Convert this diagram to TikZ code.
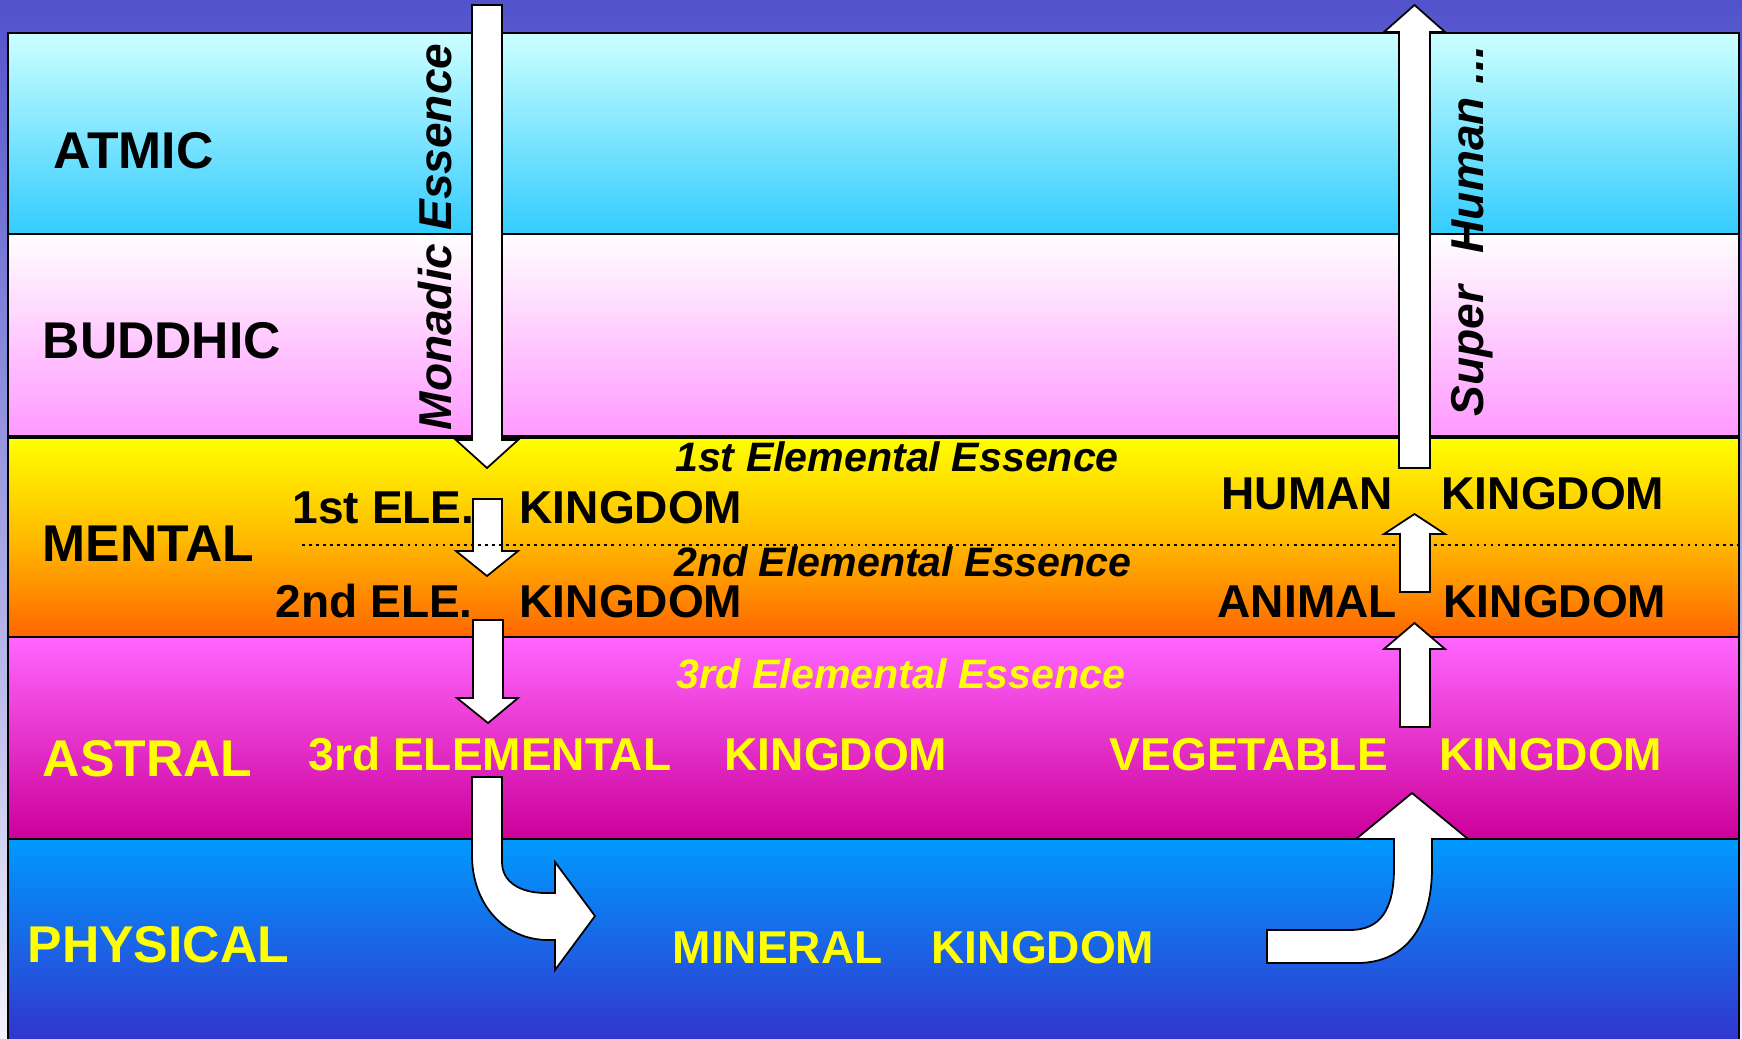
\documentclass[tikz,border=0pt]{standalone}
\usepackage{fontspec}
\setmainfont{Liberation Sans}

\definecolor{backtop}{HTML}{5252CC}
\definecolor{backbot}{HTML}{F2F2FB}
\definecolor{atmictop}{HTML}{CCFFFF}
\definecolor{atmicbot}{HTML}{33CCFF}
\definecolor{buddhictop}{HTML}{FFFFFF}
\definecolor{buddhicbot}{HTML}{FF99FF}
\definecolor{mentaltop}{HTML}{FFFF00}
\definecolor{mentalmid}{HTML}{FFBB00}
\definecolor{mentalbot}{HTML}{FF6600}
\definecolor{astraltop}{HTML}{FF66FF}
\definecolor{astralbot}{HTML}{CC0099}
\definecolor{physicaltop}{HTML}{0099FF}
\definecolor{physicalbot}{HTML}{3333CC}
\definecolor{lowtext}{HTML}{FFFF00}

\begin{document}
\begin{tikzpicture} [
    x=0.01cm,
    y=-0.01cm,
    line join=miter,
  ]

  \tikzstyle{plane} = [
    draw=black,
    line width=0.6pt,
  ]
  \tikzstyle{planelabel} = [
    anchor=base west,
    inner sep=0pt,
    font=\fontsize{14.7}{18}\selectfont\bfseries,
  ]
  \tikzstyle{kingdom} = [
    planelabel,
    font=\fontsize{13.1}{15}\selectfont\bfseries,
  ]
  \tikzstyle{essence} = [
    anchor=base,
    inner sep=0pt,
    font=\fontsize{11.7}{14}\selectfont\bfseries\itshape,
  ]
  \tikzstyle{essenceup} = [
    essence,
    rotate=90,
    font=\fontsize{13.1}{15}\selectfont\bfseries\itshape,
  ]
  \tikzstyle{blockarrow} = [
    fill=white,
    draw=black,
    line width=0.5pt,
  ]

  \clip (0,0) rectangle (1742,1038);
  \shade[top color=backtop, bottom color=backbot] (0,0) rectangle (1742,1038);

  % the five planes
  \path[plane, top color=atmictop, bottom color=atmicbot]       (8,33)  rectangle (1739,234);
  \path[plane, top color=buddhictop, bottom color=buddhicbot]   (8,234) rectangle (1739,436);
  \path[plane, top color=mentaltop, bottom color=mentalbot,
        middle color=mentalmid]                                  (8,438) rectangle (1739,637);
  \path[plane, top color=astraltop, bottom color=astralbot]     (8,637) rectangle (1739,839);
  \path[plane, top color=physicaltop, bottom color=physicalbot] (8,839) rectangle (1739,1045);

  \node[planelabel]             (atmic)    at (53,168) {ATMIC};
  \node[planelabel]             (buddhic)  at (42,358) {BUDDHIC};
  \node[planelabel]             (mental)   at (42,561) {MENTAL};
  \node[planelabel, lowtext]    (astral)   at (42,776) {ASTRAL};
  \node[planelabel, lowtext]    (physical) at (27,962) {PHYSICAL};

  \node[essenceup] (monadic)    at (451,237) {Monadic Essence};
  \node[essenceup] (superhuman) at (1483,231) {Super\hspace{0.7em}Human ...};

  \node[essence]          (ess1) at (897,471) {1st Elemental Essence};
  \node[essence]          (ess2) at (903,576) {2nd Elemental Essence};
  \node[essence, lowtext] (ess3) at (901,688) {3rd Elemental Essence};

  \node[kingdom]          (ele1)     at (292,523)  {1st ELE.};
  \node[kingdom]          (ele1k)    at (519,523)  {KINGDOM};
  \node[kingdom]          (ele2)     at (275,617)  {2nd ELE.};
  \node[kingdom]          (ele2k)    at (519,617)  {KINGDOM};
  \node[kingdom, lowtext] (ele3)     at (308,770)  {3rd ELEMENTAL};
  \node[kingdom, lowtext] (ele3k)    at (724,770)  {KINGDOM};
  \node[kingdom, lowtext] (mineral)  at (672,963)  {MINERAL};
  \node[kingdom, lowtext] (mineralk) at (931,963)  {KINGDOM};
  \node[kingdom, lowtext] (veg)      at (1109,770) {VEGETABLE};
  \node[kingdom, lowtext] (vegk)     at (1439,770) {KINGDOM};
  \node[kingdom]          (animal)   at (1217,617) {ANIMAL};
  \node[kingdom]          (animalk)  at (1443,617) {KINGDOM};
  \node[kingdom]          (human)    at (1221,509) {HUMAN};
  \node[kingdom]          (humank)   at (1441,509) {KINGDOM};

  % way down
  \draw[blockarrow] (472,5) -- (502,5) -- (502,440) -- (518,440) -- (487,468)
                    -- (456,440) -- (472,440) -- cycle;
  \draw[blockarrow] (473,499) -- (502,499) -- (502,551) -- (518,551) -- (487,576)
                    -- (456,551) -- (473,551) -- cycle;
  \draw[line width=0.8pt, dash pattern=on 0.8pt off 1.2pt] (302,545) -- (1739,545);
  \draw[blockarrow] (473,620) -- (503,620) -- (503,698) -- (518,698) -- (488,723)
                    -- (457,698) -- (473,698) -- cycle;
  \draw[blockarrow] (472,777) -- (472,855) .. controls (472,905) and (505,940) .. (548,940)
                    -- (555,940) -- (555,970) -- (595,916) -- (555,862) -- (555,893)
                    -- (546,893) .. controls (520,893) and (502,882) .. (502,862)
                    -- (502,777) -- cycle;

  % way up
  \draw[blockarrow] (1267,930) -- (1267,963) -- (1357,963)
                    .. controls (1410,963) and (1432,920) .. (1432,868)
                    -- (1432,839) -- (1468,839) -- (1412,793) -- (1356,839) -- (1394,839)
                    -- (1394,868) .. controls (1394,910) and (1380,930) .. (1350,930)
                    -- cycle;
  \draw[blockarrow] (1400,727) -- (1430,727) -- (1430,649) -- (1445,649) -- (1414.5,623)
                    -- (1384,649) -- (1400,649) -- cycle;
  \draw[blockarrow] (1400,592) -- (1430,592) -- (1430,534) -- (1445,534) -- (1414.5,514)
                    -- (1384,534) -- (1400,534) -- cycle;
  \draw[blockarrow] (1399,468) -- (1430,468) -- (1430,32) -- (1445,32) -- (1414.5,5)
                    -- (1384,32) -- (1399,32) -- cycle;

\end{tikzpicture}
\end{document}
